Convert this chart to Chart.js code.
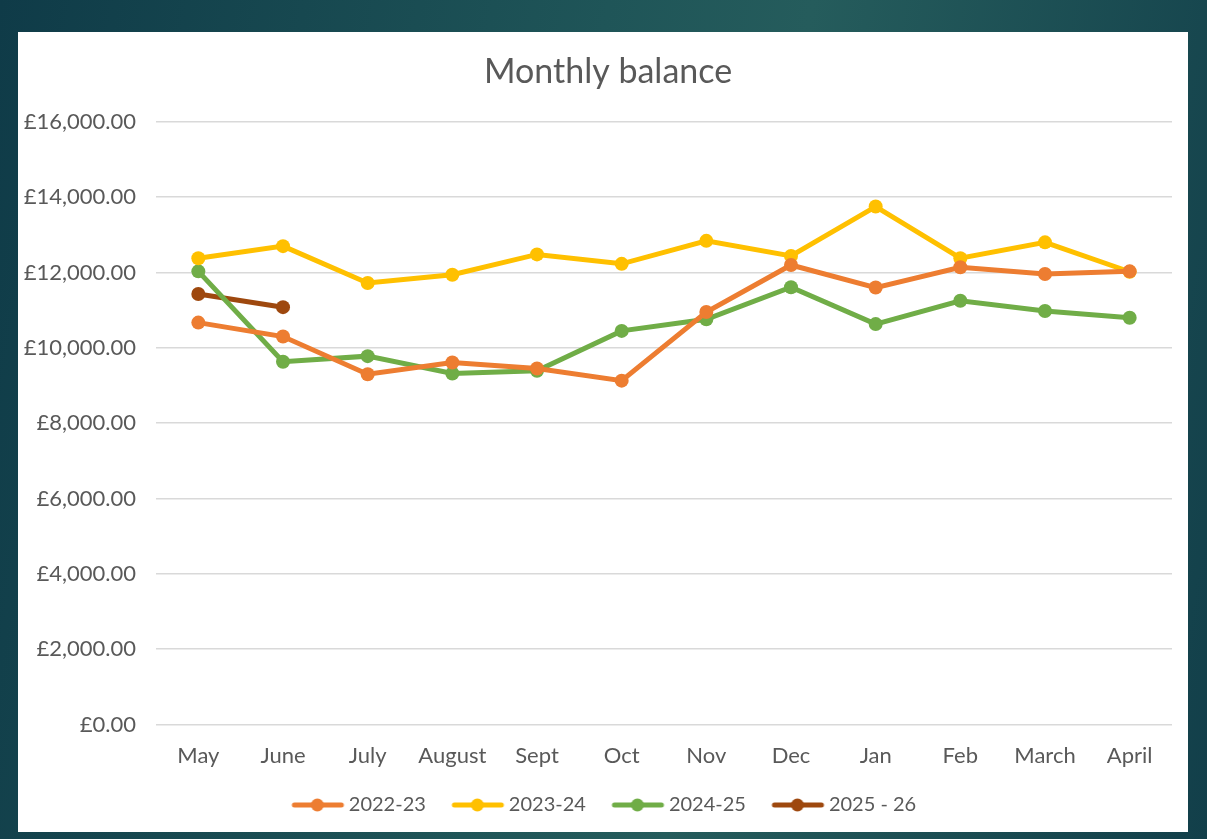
<!DOCTYPE html>
<html>
<head>
<meta charset="utf-8">
<script src="https://cdn.jsdelivr.net/npm/chart.js@4"></script>
<style>
  html, body { margin: 0; padding: 0; }
  body {
    width: 1207px; height: 839px; overflow: hidden;
    background: linear-gradient(100deg, #0f3b48 0%, #1f5558 45%, #255c5c 60%, #123f4a 100%);
  }
  #panel {
    position: absolute; left: 18px; top: 32px; width: 1170px; height: 800px;
    background: #fff;
  }
  #chartBox {
    position: absolute; left: 18px; top: 32px; width: 1178px; height: 800px;
  }
</style>
</head>
<body>
<div id="panel"></div>
<div id="chartBox"><canvas id="balanceChart"></canvas></div>
<script>
// months of the financial year
const months = ['May', 'June', 'July', 'August', 'Sept', 'Oct', 'Nov', 'Dec', 'Jan', 'Feb', 'March', 'April'];

// balances
const bal2022 = [10670, 10300, 9300, 9610, 9450, 9130, 10950, 12200, 11600, 12140, 11960, 12030];
const bal2023 = [12380, 12700, 11720, 11940, 12480, 12230, 12840, 12440, 13750, 12380, 12800, 12020];
const bal2024 = [12030, 9630, 9780, 9320, 9390, 10450, 10760, 11610, 10630, 11250, 10980, 10800];
const bal2025 = [11430, 11080];

const yearLabels = ['2022-23', '2023-24', '2024-25', '2025 - 26'];
const yearColours = ['#ED7D31', '#FFC000', '#70AD47', '#9E480E'];

const textGrey = '#595959';
const fontName = 'Lato, "Open Sans", sans-serif';

// line + dot picture for the legend (drawn toward the right so it sits next to the text)
function legendMark(colour) {
	const c = document.createElement('canvas');
	c.width = 90;
	c.height = 14;
	const g = c.getContext('2d');
	g.strokeStyle = colour;
	g.lineWidth = 5;
	g.lineCap = 'round';
	g.beginPath();
	g.moveTo(33, 7);
	g.lineTo(80, 7);
	g.stroke();
	g.fillStyle = colour;
	g.beginPath();
	g.arc(56, 7, 6.5, 0, Math.PI * 2);
	g.fill();
	return c;
}
const marks = yearColours.map(legendMark);

function makeSet(i, values) {
	return {
		label: yearLabels[i],
		data: values,
		borderColor: yearColours[i],
		backgroundColor: yearColours[i],
		borderWidth: 5,
		pointRadius: 7,
		pointHoverRadius: 7,
		pointBorderWidth: 0,
		tension: 0
	};
}

const ctx = document.getElementById('balanceChart').getContext('2d');
new Chart(ctx, {
	type: 'line',
	data: {
		labels: months,
		datasets: [
			makeSet(0, bal2022),
			makeSet(1, bal2023),
			makeSet(2, bal2024),
			makeSet(3, bal2025)
		]
	},
	options: {
		responsive: true,
		maintainAspectRatio: false,
		animation: false,
		layout: {
			padding: { left: 0, right: 24, top: 0, bottom: 7 }
		},
		plugins: {
			title: {
				display: true,
				// the title sits a little right of centre in the original
				text: '\u00A0\u00A0\u00A0Monthly balance',
				color: textGrey,
				font: { family: fontName, size: 34, weight: 'normal' },
				padding: { top: 20, bottom: 29 }
			},
			legend: {
				position: 'bottom',
				labels: {
					color: textGrey,
					font: { family: fontName, size: 20 },
					usePointStyle: true,
					pointStyleWidth: 65,
					padding: 8,
					generateLabels: function (chart) {
						const items = Chart.defaults.plugins.legend.labels.generateLabels(chart);
						items.forEach(function (item, idx) {
							item.pointStyle = marks[idx];
						});
						return items;
					}
				}
			},
			tooltip: { enabled: false }
		},
		scales: {
			x: {
				offset: true,
				grid: { display: false, drawTicks: false },
				border: { display: false },
				ticks: {
					color: textGrey,
					font: { family: fontName, size: 22 },
					padding: 18
				}
			},
			y: {
				min: 0,
				max: 16000,
				afterFit: function (scale) {
					scale.width = 138;
				},
				grid: { color: '#d9d9d9', lineWidth: 1.5, drawTicks: false },
				border: { display: false },
				ticks: {
					stepSize: 2000,
					color: textGrey,
					font: { family: fontName, size: 22 },
					padding: 20,
					callback: function (value) {
						return '£' + value.toLocaleString('en-GB', { minimumFractionDigits: 2, maximumFractionDigits: 2 });
					}
				}
			}
		}
	}
});
</script>
</body>
</html>
